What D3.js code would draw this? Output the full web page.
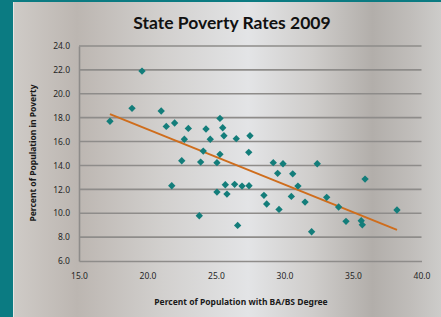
<!DOCTYPE html>
<html>
<head>
<meta charset="utf-8">
<script src="https://cdn.jsdelivr.net/npm/d3@7/dist/d3.min.js"></script>
<style>
  html, body { margin: 0; padding: 0; background: #0b7b82; }
  svg { display: block; }
</style>
</head>
<body>
<script>
// data: BA/BS degree % vs poverty %
const degree = [19.6, 18.87, 17.26, 21.0, 21.37, 21.98, 22.98, 22.69, 24.27, 25.29,
  25.49, 25.58, 24.58, 26.48, 27.48, 27.39, 24.07, 25.29, 22.5, 23.88,
  25.07, 21.77, 25.68, 25.07, 25.8, 26.36, 26.9, 27.41, 23.78, 26.58,
  29.18, 29.89, 32.39, 29.5, 30.6, 35.88, 30.98, 28.5, 30.5, 33.08,
  28.7, 31.5, 29.6, 33.95, 38.21, 34.49, 35.6, 35.68, 31.98];
const poverty = [21.9, 18.78, 17.7, 18.56, 17.27, 17.55, 17.1, 16.19, 17.05, 17.94,
  17.16, 16.49, 16.19, 16.24, 16.49, 15.1, 15.2, 14.93, 14.39, 14.28,
  14.23, 12.3, 12.38, 11.77, 11.6, 12.42, 12.27, 12.3, 9.79, 8.98,
  14.23, 14.14, 14.14, 13.34, 13.3, 12.86, 12.27, 11.5, 11.41, 11.33,
  10.77, 10.93, 10.32, 10.52, 10.27, 9.32, 9.37, 9.03, 8.45];
const trendX = [17.26, 38.21];
const trendY = [18.3, 8.61];
const xTicks = [15, 20, 25, 30, 35, 40];
const yTicks = [6, 8, 10, 12, 14, 16, 18, 20, 22, 24];

const width = 441, height = 317;
const panelLeft = 13, panelTop = 2;
const fmt = d3.format(".1f");

const svg = d3.select("body").append("svg")
  .attr("width", width)
  .attr("height", height);

// brushed metal background
const grad = svg.append("defs").append("linearGradient")
  .attr("id", "metal")
  .attr("x1", "0%").attr("x2", "100%").attr("y1", "0%").attr("y2", "0%");
[[0, "#cfcbc7"], [0.15, "#bcb6b1"], [0.35, "#d2d0ce"], [0.55, "#e3e4e6"],
 [0.7, "#cfcdcb"], [0.84, "#b2aeaa"], [0.93, "#c0bdba"], [1, "#cdccca"]]
  .forEach(s => grad.append("stop").attr("offset", s[0]).attr("stop-color", s[1]));

svg.append("rect")
  .attr("x", panelLeft).attr("y", panelTop)
  .attr("width", width - panelLeft).attr("height", height - panelTop)
  .attr("fill", "url(#metal)");
svg.append("line")
  .attr("x1", panelLeft + 0.5).attr("x2", panelLeft + 0.5)
  .attr("y1", panelTop).attr("y2", height)
  .attr("stroke", "#e8e6e3").attr("stroke-width", 1);

const x = d3.scaleLinear().domain([15, 40]).range([79, 421.5]);
const y = d3.scaleLinear().domain([6, 24]).range([261, 46]);

// gridlines
svg.append("g")
  .selectAll("line")
  .data(yTicks.slice(1))
  .join("line")
    .attr("x1", x(15)).attr("x2", x(40))
    .attr("y1", d => y(d)).attr("y2", d => y(d))
    .attr("stroke", "#8e8c8a")
    .attr("stroke-width", 1.6);

// axes (ticks hidden, labels kept)
const yAxis = svg.append("g")
  .attr("transform", `translate(${x(15)},0)`)
  .call(d3.axisLeft(y).tickValues(yTicks).tickFormat(fmt).tickSize(0).tickPadding(9));
const xAxis = svg.append("g")
  .attr("transform", `translate(0,${y(6)})`)
  .call(d3.axisBottom(x).tickValues(xTicks).tickFormat(fmt).tickSize(0).tickPadding(12));

[xAxis, yAxis].forEach(a => {
  a.select(".domain").attr("stroke", "#8e8c8a").attr("stroke-width", 1.6);
  a.selectAll("text")
    .attr("fill", "#262626")
    .style("font-family", "'Noto Sans', sans-serif")
    .style("font-size", "8.5px");
});

// trend line
svg.append("line")
  .attr("x1", x(trendX[0])).attr("y1", y(trendY[0]))
  .attr("x2", x(trendX[1])).attr("y2", y(trendY[1]))
  .attr("stroke", "#cf6d1c")
  .attr("stroke-width", 2);

// points
svg.append("g")
  .selectAll("rect")
  .data(degree.map((d, i) => [d, poverty[i]]))
  .join("rect")
    .attr("x", -2.6).attr("y", -2.6)
    .attr("width", 5.2).attr("height", 5.2)
    .attr("transform", d => `translate(${x(d[0])},${y(d[1])}) rotate(45)`)
    .attr("fill", "#137d7a");

// titles
svg.append("text")
  .attr("x", 232).attr("y", 29)
  .attr("text-anchor", "middle")
  .style("font-family", "Lato, sans-serif")
  .style("font-weight", "bold")
  .style("font-size", "17.5px")
  .attr("fill", "#111")
  .text("State Poverty Rates 2009");

svg.append("text")
  .attr("x", 241).attr("y", 305)
  .attr("text-anchor", "middle")
  .style("font-family", "'Noto Sans', sans-serif")
  .style("font-weight", "bold")
  .style("font-size", "8.5px")
  .attr("fill", "#1a1a1a")
  .text("Percent of Population with BA/BS Degree");

svg.append("text")
  .attr("transform", "translate(36,153) rotate(-90)")
  .attr("text-anchor", "middle")
  .style("font-family", "'Noto Sans', sans-serif")
  .style("font-weight", "bold")
  .style("font-size", "8.5px")
  .attr("fill", "#1a1a1a")
  .text("Percent of Population in Poverty");
</script>
</body>
</html>
